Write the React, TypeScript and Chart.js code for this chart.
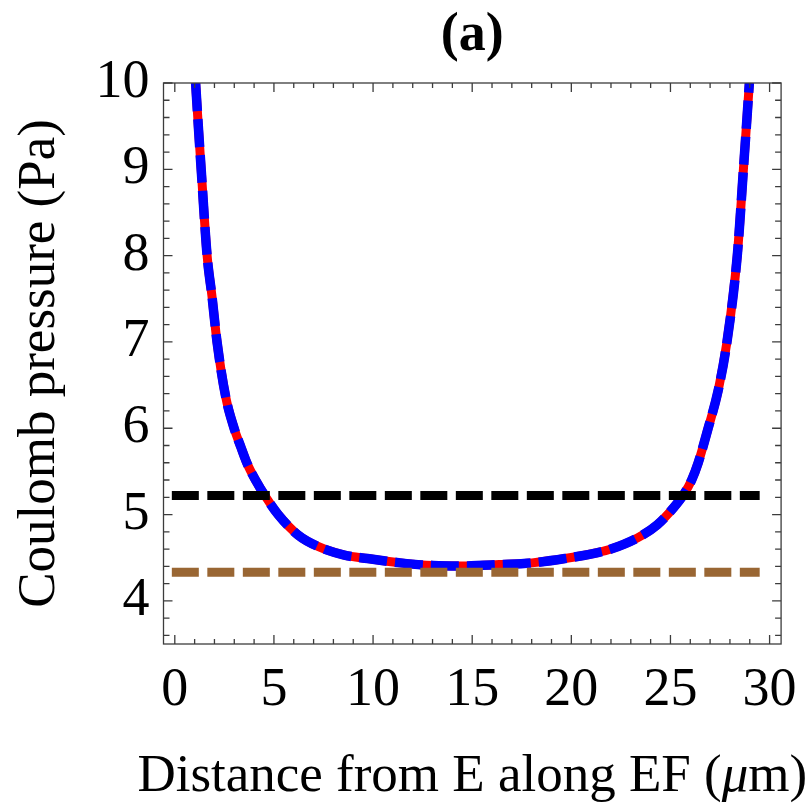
import React, { useEffect, useRef } from "react";
import { Chart, registerables } from "chart.js";

Chart.register(...registerables);

// Curve (distance in µm, pressure in Pa)
const curveX = [1.05, 1.2, 1.33, 1.63, 1.88, 2.13, 2.57, 2.99, 3.32, 3.65, 4.07, 4.57, 5.23, 6.23, 7.22, 8.55, 9.72, 11.38, 13.04, 14.7, 16.36, 18.02, 19.68, 21.34, 22.0, 23.34, 24.33, 25.16, 25.66, 26.07, 26.4, 26.9, 27.4, 27.85, 28.37, 28.68, 28.98];
const curveY = [10.0, 9.45, 9.0, 8.0, 7.52, 7.0, 6.36, 6.0, 5.79, 5.59, 5.4, 5.21, 4.995, 4.76, 4.63, 4.53, 4.49, 4.44, 4.41, 4.405, 4.42, 4.44, 4.49, 4.56, 4.6, 4.73, 4.88, 5.08, 5.23, 5.4, 5.6, 6.0, 6.43, 7.0, 8.0, 9.0, 10.0];

const blackLevel = 5.22;
const brownLevel = 4.33;
const levelX = [-0.15, 29.5];

const xTickValues = [0, 5, 10, 15, 20, 25, 30];
const yTickValues = [4, 5, 6, 7, 8, 9, 10];
const xRange = [-0.57, 30.58];
const yRange = [3.5, 10];

const titleText = "(a)";
const xTitleParts = ["Distance from E along EF (", "\u03bc", "m)"];
const yTitleText = "Coulomb pressure (Pa)";

const SERIF = '"Liberation Serif", "DejaVu Serif", serif';

const framePlugin = {
  id: "mmaFrame",
  afterDraw(chart: any) {
    const { ctx, chartArea } = chart;
    const { left, right, top, bottom } = chartArea;
    const xs = chart.scales.x;
    const ys = chart.scales.y;
    ctx.save();
    ctx.strokeStyle = "#3c3c3c";
    ctx.lineWidth = 1.3;
    ctx.strokeRect(left, top, right - left, bottom - top);
    ctx.beginPath();
    for (let i = 0; i <= 30; i++) {
      const px = xs.getPixelForValue(i);
      const len = i % 5 === 0 ? 9 : 5;
      ctx.moveTo(px, bottom);
      ctx.lineTo(px, bottom - len);
      ctx.moveTo(px, top);
      ctx.lineTo(px, top + len);
    }
    for (let k = 18; k <= 50; k++) {
      const v = k / 5;
      const py = ys.getPixelForValue(v);
      const len = k % 5 === 0 ? 9 : 6;
      ctx.moveTo(left, py);
      ctx.lineTo(left + len, py);
      ctx.moveTo(right, py);
      ctx.lineTo(right - len, py);
    }
    ctx.stroke();

    ctx.fillStyle = "#000";
    ctx.textBaseline = "alphabetic";
    ctx.textAlign = "center";
    ctx.font = `bold 54px ${SERIF}`;
    ctx.fillText(titleText, (left + right) / 2, 50);

    // x title with italic mu
    const fonts = [`53px ${SERIF}`, `italic 53px ${SERIF}`, `53px ${SERIF}`];
    const widths = xTitleParts.map((t, i) => {
      ctx.font = fonts[i];
      return ctx.measureText(t).width;
    });
    const total = widths.reduce((a, b) => a + b, 0);
    let cx = (left + right) / 2 - total / 2;
    ctx.textAlign = "left";
    xTitleParts.forEach((t, i) => {
      ctx.font = fonts[i];
      ctx.fillText(t, cx, 791);
      cx += widths[i];
    });

    ctx.translate(53.5, (top + bottom) / 2);
    ctx.rotate(-Math.PI / 2);
    ctx.textAlign = "center";
    ctx.font = `53px ${SERIF}`;
    ctx.fillText(yTitleText, 0, 0);
    ctx.restore();
  },
};

export default function App() {
  const ref = useRef<HTMLCanvasElement | null>(null);
  useEffect(() => {
    if (!ref.current) return;
    const curve = curveX.map((x, i) => ({ x, y: curveY[i] }));
    const chart = new Chart(ref.current, {
      type: "line",
      data: {
        datasets: [
          {
            label: "brown",
            data: levelX.map((x) => ({ x, y: brownLevel })),
            borderColor: "#996633",
            borderWidth: 9,
            borderDash: [27, 8.5],
            pointRadius: 0,
          },
          {
            label: "black",
            data: levelX.map((x) => ({ x, y: blackLevel })),
            borderColor: "#000000",
            borderWidth: 9,
            borderDash: [27, 8.5],
            pointRadius: 0,
          },
          {
            label: "blue",
            data: curve,
            borderColor: "#0000ff",
            borderWidth: 9.5,
            borderDash: [28, 8],
            cubicInterpolationMode: "monotone",
            pointRadius: 0,
          },
          {
            label: "red",
            data: curve,
            borderColor: "#ff0000",
            borderWidth: 9,
            cubicInterpolationMode: "monotone",
            pointRadius: 0,
          },
        ],
      },
      options: {
        responsive: false,
        animation: false,
        layout: { padding: { top: 83, right: 22, left: 0, bottom: 0 } },
        plugins: { legend: { display: false }, tooltip: { enabled: false } },
        scales: {
          x: {
            type: "linear",
            min: xRange[0],
            max: xRange[1],
            grid: { display: false, drawTicks: false },
            border: { display: false },
            afterBuildTicks: (s: any) => {
              s.ticks = xTickValues.map((v) => ({ value: v }));
            },
            afterFit: (s: any) => {
              s.height = 165;
            },
            ticks: {
              padding: 14,
              color: "#000",
              maxRotation: 0,
              autoSkip: false,
              font: { family: SERIF, size: 54 },
            },
          },
          y: {
            type: "linear",
            min: yRange[0],
            max: yRange[1],
            grid: { display: false, drawTicks: false },
            border: { display: false },
            afterBuildTicks: (s: any) => {
              s.ticks = yTickValues.map((v) => ({ value: v }));
            },
            afterFit: (s: any) => {
              s.width = 163.5;
            },
            ticks: {
              padding: 14,
              color: "#000",
              autoSkip: false,
              font: { family: SERIF, size: 54 },
            },
          },
        },
      },
      plugins: [framePlugin],
    } as any);
    return () => chart.destroy();
  }, []);
  return (
    <div style={{ position: "absolute", left: 0, top: 0, width: 811, height: 809, background: "#fff" }}>
      <canvas ref={ref} width={811} height={809} style={{ display: "block" }} />
    </div>
  );
}
